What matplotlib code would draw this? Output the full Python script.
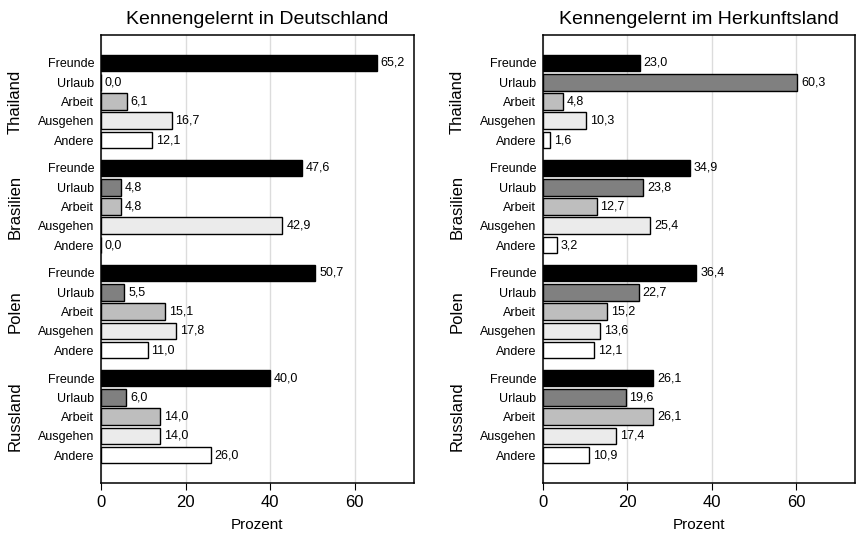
import matplotlib
matplotlib.use("Agg")
import matplotlib.pyplot as plt
import numpy as np

countries = ["Thailand", "Brasilien", "Polen", "Russland"]
categories = ["Freunde", "Urlaub", "Arbeit", "Ausgehen", "Andere"]
colors = ["#000000", "#808080", "#bebebe", "#ebebeb", "#ffffff"]

titles = ["Kennengelernt in Deutschland", "Kennengelernt im Herkunftsland"]
deutschland = [
    [65.2, 0.0, 6.1, 16.7, 12.1],
    [47.6, 4.8, 4.8, 42.9, 0.0],
    [50.7, 5.5, 15.1, 17.8, 11.0],
    [40.0, 6.0, 14.0, 14.0, 26.0],
]
herkunft = [
    [23.0, 60.3, 4.8, 10.3, 1.6],
    [34.9, 23.8, 12.7, 25.4, 3.2],
    [36.4, 22.7, 15.2, 13.6, 12.1],
    [26.1, 19.6, 26.1, 17.4, 10.9],
]

plt.rcParams.update({"font.family": ["Liberation Sans", "DejaVu Sans"]})
fig = plt.figure(figsize=(8.58, 5.38), dpi=100)
axes = [fig.add_axes([0.1177, 0.1022, 0.3648, 0.8327]),
        fig.add_axes([0.6329, 0.1022, 0.3636, 0.8327])]

GROUP = 5.45
for ax, title, data in zip(axes, titles, [deutschland, herkunft]):
    ypos, ylab = [], []
    for g, (country, vals) in enumerate(zip(countries, data)):
        pos = g * GROUP + np.arange(len(categories))
        ax.barh(pos, vals, height=0.86, color=colors, edgecolor="black",
                linewidth=1.0, zorder=3)
        for p, v in zip(pos, vals):
            ax.text(v + 0.9, p, f"{v:.1f}".replace(".", ","), va="center",
                    ha="left", fontsize=9, zorder=4)
        ax.text(-0.275, 1 - (pos[2] + 1.45) / (3 * GROUP + 4 + 2.9), country,
                transform=ax.transAxes, rotation=90, ha="center",
                va="center", fontsize=12)
        ypos.extend(pos)
        ylab.extend(categories)
    ax.set_yticks(ypos, ylab, fontsize=9)
    ax.tick_params(axis="y", length=0, pad=5)
    ax.set_ylim(3 * GROUP + 4 + 1.45, -1.45)
    ax.set_xlim(0, 74)
    ax.set_xticks([0, 20, 40, 60])
    ax.tick_params(axis="x", labelsize=12, length=5, direction="out")
    ax.grid(axis="x", color="#dcdcdc", lw=1.0, zorder=0)
    for s in ax.spines.values():
        s.set_linewidth(1.1)
    ax.set_xlabel("Prozent", fontsize=11, labelpad=6)
    ax.set_title(title, fontsize=14, pad=8)

fig.savefig("out.png", dpi=100)
